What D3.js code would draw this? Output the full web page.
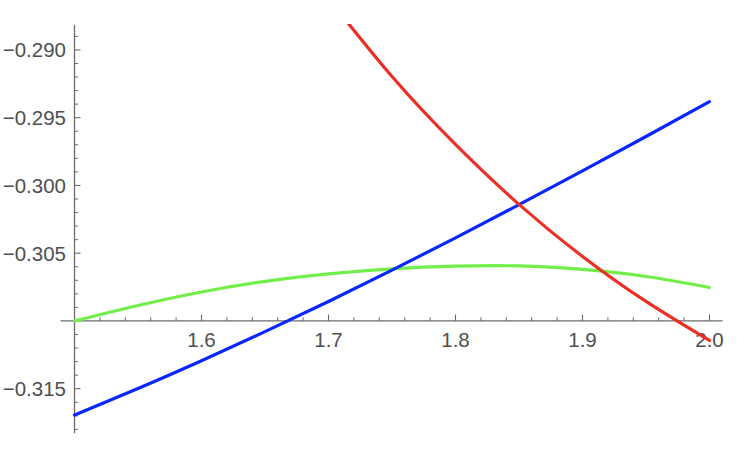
<!DOCTYPE html>
<html>
<head>
<meta charset="utf-8">
<script src="https://cdn.jsdelivr.net/npm/d3@7"></script>
<style>
  html, body { margin: 0; padding: 0; background: #fff; }
  svg { display: block; }
</style>
</head>
<body>
<svg id="chart" width="752" height="464"></svg>
<script>
// ---- data ----
const xs = [1.50, 1.55, 1.60, 1.65, 1.70, 1.75, 1.80, 1.85, 1.90, 1.95, 2.00];
const redValues   = [null, null, null, null, -0.28620, -0.29196, -0.29697, -0.30140, -0.30524, -0.30856, -0.31144];
const blueValues  = [-0.31694, -0.31498, -0.31293, -0.31079, -0.30856, -0.30625, -0.30387, -0.30142, -0.29893, -0.29639, -0.29382];
const greenValues = [-0.31000, -0.30886, -0.30786, -0.30708, -0.30653, -0.30616, -0.30596, -0.30594, -0.30620, -0.30672, -0.30753];
const xTickLabels = [1.6, 1.7, 1.8, 1.9, 2.0];
const yTickLabels = [-0.315, -0.305, -0.300, -0.295, -0.290];
const xDomain = [1.5, 2.0];
const yDomain = [-0.31829, -0.28816];
const xOrigin = 1.5, yOrigin = -0.310;

// ---- layout ----
const svg = d3.select("#chart");
const x = d3.scaleLinear().domain(xDomain).range([74.5, 709.5]);
const y = d3.scaleLinear().domain(yDomain).range([433.3, 25]);
const axisColor = "#6b6b6b";
const labelColor = "#4f4f4f";
const font = "'Liberation Sans', Arial, Helvetica, sans-serif";

// clip
svg.append("defs").append("clipPath").attr("id", "plotclip")
  .append("rect").attr("x", 0).attr("y", 24).attr("width", 752).attr("height", 420);

// ---- axes ----
const x0 = x(xOrigin), y0 = y(yOrigin);
const gAx = svg.append("g");

// x axis line
gAx.append("line").attr("x1", x0 - 14).attr("x2", x(2.0) + 13)
  .attr("y1", y0).attr("y2", y0).attr("stroke", axisColor).attr("stroke-width", 1.3);
// y axis line
gAx.append("line").attr("x1", x0).attr("x2", x0)
  .attr("y1", y.range()[1]).attr("y2", y.range()[0]).attr("stroke", axisColor).attr("stroke-width", 1.3);

// x minor ticks
const xMinor = d3.range(0, 26).map(i => 1.5 + i * 0.02).filter(v => Math.abs(Math.round(v * 10) - v * 10) > 1e-6);
gAx.selectAll(".xminor").data(xMinor).join("line")
  .attr("x1", d => x(d)).attr("x2", d => x(d))
  .attr("y1", y0).attr("y2", y0 - 3.8).attr("stroke", axisColor).attr("stroke-width", 1);
// x major ticks
gAx.selectAll(".xmajor").data(xTickLabels).join("line")
  .attr("x1", d => x(d)).attr("x2", d => x(d))
  .attr("y1", y0).attr("y2", y0 - 6.5).attr("stroke", axisColor).attr("stroke-width", 1.1);
// x labels
gAx.selectAll(".xlab").data(xTickLabels).join("text")
  .attr("x", d => x(d)).attr("y", y0 + 26)
  .attr("text-anchor", "middle").attr("fill", labelColor)
  .style("font-family", font).style("font-size", "20.5px")
  .text(d => d3.format(".1f")(d));

// y minor ticks
const yMinor = d3.range(-318, -288).map(i => i / 1000).filter(v => Math.abs(Math.round(v * 1000) % 5) !== 0);
gAx.selectAll(".yminor").data(yMinor).join("line")
  .attr("x1", x0).attr("x2", x0 + 3.5)
  .attr("y1", d => y(d)).attr("y2", d => y(d)).attr("stroke", axisColor).attr("stroke-width", 1);
// y major ticks
gAx.selectAll(".ymajor").data(yTickLabels).join("line")
  .attr("x1", x0).attr("x2", x0 + 6)
  .attr("y1", d => y(d)).attr("y2", d => y(d)).attr("stroke", axisColor).attr("stroke-width", 1.1);
// y labels
gAx.selectAll(".ylab").data(yTickLabels).join("text")
  .attr("x", x0 - 8.5).attr("y", d => y(d) + 7.4)
  .attr("text-anchor", "end").attr("fill", labelColor)
  .style("font-family", font).style("font-size", "20.5px")
  .text(d => d3.format(".3f")(d).replace("-", "\u2212"));

// ---- series ----
const series = [
  { values: greenValues, color: "#72ee4a" },
  { values: blueValues,  color: "#0a26ff" },
  { values: redValues,   color: "#ec2f25" }
];
const line = d3.line()
  .x(d => x(d[0])).y(d => y(d[1]))
  .curve(d3.curveNatural);

svg.append("g").attr("clip-path", "url(#plotclip)")
  .selectAll("path").data(series).join("path")
  .attr("d", s => line(xs.map((xv, i) => [xv, s.values[i]]).filter(d => d[1] !== null)))
  .attr("fill", "none").attr("stroke", s => s.color)
  .attr("stroke-width", 3.2).attr("stroke-linecap", "round");
</script>
</body>
</html>
